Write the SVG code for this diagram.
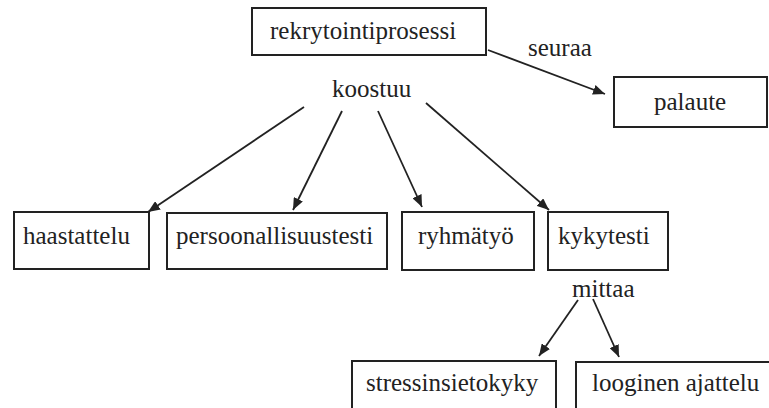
<svg xmlns="http://www.w3.org/2000/svg" width="769" height="408" viewBox="0 0 769 408" font-family="'Liberation Serif', 'Times New Roman', serif" font-size="25">
<style>
.box{fill:#fff;stroke:#222;stroke-width:2}
.c{stroke:#222;stroke-width:1.8;fill:none;marker-end:url(#ah)}
text{font-family:'Liberation Serif','Times New Roman',serif;font-size:25px;fill:#222}
</style>
<defs>
<marker id="ah" viewBox="0 0 12 10" refX="12" refY="5" markerWidth="12" markerHeight="10" markerUnits="userSpaceOnUse" orient="auto">
<path d="M0,0 L12,5 L0,10 Z" fill="#222"/>
</marker>
</defs>
<rect width="769" height="408" fill="#fff"/>
<g id="connectors">
<line class="c" x1="488" y1="50" x2="605" y2="94"/>
<line class="c" x1="304" y1="107" x2="148" y2="212"/>
<line class="c" x1="342" y1="111" x2="293" y2="210"/>
<line class="c" x1="378" y1="111" x2="422" y2="207"/>
<line class="c" x1="426" y1="103" x2="549" y2="210"/>
<line class="c" x1="578" y1="300" x2="539" y2="356"/>
<line class="c" x1="593" y1="299" x2="619" y2="357"/>
</g>
<g id="label-seuraa"><text x="528" y="56">seuraa</text></g>
<g id="label-koostuu"><text x="332" y="97">koostuu</text></g>
<g id="label-mittaa"><text x="572" y="297">mittaa</text></g>
<g id="n-rekrytointiprosessi"><rect class="box" x="252" y="8" width="234" height="47"/><text x="270" y="39">rekrytointiprosessi</text></g>
<g id="n-palaute"><rect class="box" x="614" y="77" width="153" height="50"/><text x="654" y="110">palaute</text></g>
<g id="n-haastattelu"><rect class="box" x="14" y="212" width="135" height="57"/><text x="23" y="244">haastattelu</text></g>
<g id="n-persoonallisuustesti"><rect class="box" x="167" y="213" width="220" height="56"/><text x="176" y="244">persoonallisuustesti</text></g>
<g id="n-ryhmatyo"><rect class="box" x="402" y="212" width="132" height="58"/><text x="418" y="244">ryhmätyö</text></g>
<g id="n-kykytesti"><rect class="box" x="548" y="212" width="120" height="58"/><text x="558" y="244">kykytesti</text></g>
<g id="n-stressinsietokyky"><rect class="box" x="352" y="361" width="204" height="60"/><text x="366" y="391">stressinsietokyky</text></g>
<g id="n-looginen"><rect class="box" x="576" y="362" width="200" height="60"/><text x="592" y="391">looginen ajattelu</text></g>
</svg>
